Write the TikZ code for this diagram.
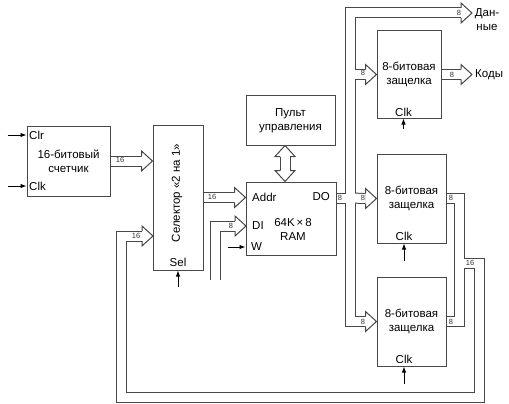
\documentclass[tikz,border=0pt]{standalone}
\usepackage{fontspec}
\setmainfont{Liberation Sans}
\usetikzlibrary{arrows.meta,positioning,calc}
\pgfdeclarelayer{background}
\pgfsetlayers{background,main}
\colorlet{ln}{black!72}
\tikzset{
  blk/.style={draw=ln, line width=1pt, inner sep=0pt, align=center,
              font=\fontsize{11.5}{14}\selectfont},
  latch/.style={blk, minimum width=69, minimum height=89},
  txt/.style={inner sep=0pt, align=center, font=\fontsize{11.5}{14}\selectfont},
  bw/.style={inner sep=0pt, font=\fontsize{7.5}{8}\selectfont, text=black!80},
  busout/.style={draw=ln, line width=11pt},
  busin/.style={draw=white, line width=9pt},
  ctl/.style={-{Latex[length=6pt,width=4.5pt]}, line width=0.9pt},
  bustip/.pic={
    \fill[white] (-11,-10) -- (0,0) -- (-11,10) -- cycle;
    \draw[ln, line width=1pt] (-11,-5) -- (-11,-10) -- (0,0) -- (-11,10) -- (-11,5);
  }
}
% the bus lines, drawn twice (outline, then inside)
\newcommand\busnet[1]{%
  \draw[#1] (cnt.east) -- ($(cnt.east -| sel.west)+(-11,0)$);
  \draw[#1] (sel.east) -- ($(sel.east -| ram.west)+(-11,0)$);
  \draw[#1] (dibot) |- ($(di)+(-11,0)$);
  \draw[#1] ($(pult.south)+(-5.5,11)$) -- ($(ram.north)+(-6,-11)$);
  \draw[#1] (ram.east |- jn) -- (jn) |- ($(dtip)+(-11,0)$);
  \draw[#1] (jn |- lat1.west) -- ($(lat1.west)+(-11,0)$);
  \draw[#1] (jn) -- ($(lat2.west)+(-11,0)$);
  \draw[#1] (jn) |- ($(lat3.west)+(-11,0)$);
  \draw[#1] (lat1.east) -- ($(ktip)+(-11,0)$);
  \draw[#1] (lat2.east) -| (mg);
  \draw[#1] (lat3.east) -| (mg);
  \draw[#1] (mg) -| (rc) -- (lc) |- ($(sin)+(-11,0)$);
}

\begin{document}
\begin{tikzpicture}[x=1pt, y=-1pt]
\useasboundingbox (0,0) rectangle (509,404);

% blocks
\node[blk, minimum width=83, minimum height=70] (cnt) at (68.5,161) {16-битовый\\счетчик};
\node[blk, minimum width=50, minimum height=145] (sel) at (178,197.5) {};
\node[blk, minimum width=89, minimum height=49] (pult) at (290.5,120.5) {Пульт\\управления};
\node[blk, minimum width=90, minimum height=73] (ram) at (291,218.5) {};
\node[latch, minimum width=64, minimum height=87] (lat1) at (409,74.5) {8-битовая\\защелка};
\node[latch] (lat2) at (411.5,198.5) {8-битовая\\защелка};
\node[latch] (lat3) at (411.5,321.5) {8-битовая\\защелка};

% port texts
\node[txt, anchor=west] (clr) at (29,135) {Clr};
\node[txt, anchor=west] (clk) at (29,186) {Clk};
\node[txt, rotate=90] (seltxt) at (177,193) {Селектор «2 на 1»};
\node[txt] (sl) at (178,262) {Sel};
\node[txt, anchor=west] (addr) at (252,197) {Addr};
\node[txt, anchor=east] (dout) at (330,197) {DO};
\node[txt, anchor=west] (din) at (252,226) {DI};
\node[txt, anchor=west] (w) at (251,247) {W};
\node[txt] (ramtxt) at (293,229) {64K\,×\,8\\RAM};
\node[txt] (k1) at (403.5,112) {Clk};
\node[txt] (k2) at (404,236) {Clk};
\node[txt] (k3) at (404,359) {Clk};
\node[txt] (dat) at (487,20) {Дан-\\ные};
\node[txt, anchor=west] (kod) at (475,75) {Коды};

% bus corners and ends
\coordinate (di) at (246,226);
\coordinate (dibot) at (215,280);
\coordinate (jn) at (350.5,198);
\coordinate (dtip) at (472,13);
\coordinate (ktip) at (472,74.5);
\coordinate (mg) at (459,263);
\coordinate (rc) at (479,397);
\coordinate (lc) at (121.5,397);
\coordinate (sin) at (153,236);

\begin{pgfonlayer}{background}
\busnet{busout}
\busnet{busin}
\end{pgfonlayer}

\pic at (cnt.east -| sel.west) {bustip};
\pic at (sel.east -| ram.west) {bustip};
\pic at (di) {bustip};
\pic at (dtip) {bustip};
\pic at (ktip) {bustip};
\pic at (lat1.west) {bustip};
\pic at (lat2.west) {bustip};
\pic at (lat3.west) {bustip};
\pic at (sin) {bustip};
\pic[rotate=90] at ($(pult.south)+(-5.5,0)$) {bustip};
\pic[rotate=-90] at ($(ram.north)+(-6,0)$) {bustip};

% bus widths
\foreach \p/\t [count=\i] in {{120,160}/16, {212,197}/16, {136,236}/16, {231,226}/8,
    {340,198}/8, {363,73}/8, {363,198}/8, {363,322}/8, {459,13}/8,
    {452,75}/8, {451,198}/8, {451,322}/8, {470,263}/16}
  \node[bw] (bw\i) at (\p) {\t};

% control inputs
\draw[ctl] (cnt.west |- clr) ++(-19,0) -- (cnt.west |- clr);
\draw[ctl] (cnt.west |- clk) ++(-19,0) -- (cnt.west |- clk);
\draw[ctl] (sel.south) ++(0,16) -- (sel.south);
\draw[ctl] (ram.west |- w) ++(-18,0) -- (ram.west |- w);
\draw[ctl] (k1 |- lat1.south) ++(0,10) -- (k1 |- lat1.south);
\draw[ctl] (k2 |- lat2.south) ++(0,17) -- (k2 |- lat2.south);
\draw[ctl] (k3 |- lat3.south) ++(0,17) -- (k3 |- lat3.south);
\end{tikzpicture}
\end{document}
